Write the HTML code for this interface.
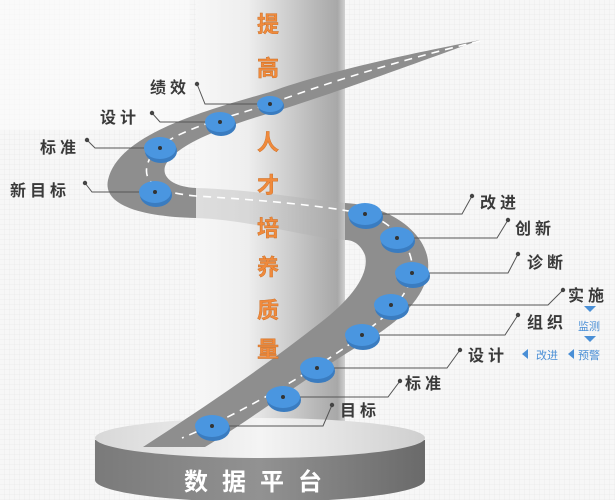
<!DOCTYPE html>
<html><head><meta charset="utf-8"><style>
html,body{margin:0;padding:0;width:615px;height:500px;overflow:hidden;background:#f6f6f6}
svg{display:block}
text{font-family:"Liberation Sans","Noto Sans CJK SC",sans-serif;font-weight:bold}
</style></head><body>
<svg width="615" height="500" viewBox="0 0 615 500" xmlns="http://www.w3.org/2000/svg">
<defs>
<pattern id="grid" width="5" height="5" patternUnits="userSpaceOnUse">
<path d="M5 0V5H0" fill="none" stroke="#e4e4e4" stroke-width="0.6"/>
</pattern>
<linearGradient id="col" x1="0" x2="1" y1="0" y2="0">
<stop offset="0" stop-color="#f7f7f7"/><stop offset="0.35" stop-color="#eeeeee"/>
<stop offset="0.8" stop-color="#b8b8b8"/><stop offset="0.95" stop-color="#a8a8a8"/><stop offset="1" stop-color="#d0d0d0"/>
</linearGradient>
<linearGradient id="side" x1="0" x2="1">
<stop offset="0" stop-color="#7a7a7a"/><stop offset="0.5" stop-color="#929292"/><stop offset="1" stop-color="#6a6a6a"/>
</linearGradient>
<linearGradient id="top" x1="0" x2="1">
<stop offset="0" stop-color="#d8d8d8"/><stop offset="0.5" stop-color="#f4f4f4"/><stop offset="1" stop-color="#cfcfcf"/>
</linearGradient>
</defs>
<rect width="615" height="500" fill="#f7f7f7"/>
<rect width="615" height="500" fill="url(#grid)"/>
<rect x="0" y="0" width="190" height="130" fill="#fbfbfb" opacity="0.6"/>
<!-- column -->
<rect x="196" y="0" width="149" height="440" fill="url(#col)"/>
<!-- platform -->
<path d="M95 440 L95 480 A165 22 0 0 0 425 480 L425 440 Z" fill="url(#side)"/>
<ellipse cx="260" cy="438" rx="165" ry="20" fill="url(#top)"/>
<text x="260" y="490" text-anchor="middle" font-size="24" fill="#fff" letter-spacing="14">数据平台</text>
<!-- road -->
<path d="M480 40 C420 52 330 70 270 92 C200 112 118 135 108 180 C102 208 150 217 196 218 L196 188 C172 187 160 176 166 164 C178 144 220 128 270 113 C330 95 430 58 480 40 Z" fill="#8e8e8e"/>
<path d="M196 188 C260 190 310 200 345 203 L345 240 C300 236 250 220 196 218 Z" fill="#b0b0b0" opacity="0.35"/>
<path d="M345 203 C390 205 432 235 428 270 C425 300 395 325 360 345 C310 375 250 420 205 447 L143 447 C200 410 260 370 320 323 C350 300 370 275 365 255 C360 243 352 240 345 240 Z" fill="#8e8e8e"/>
<path d="M480 41 C400 60 320 85 270 104 C220 120 165 132 150 158 C140 178 150 192 196 196 C260 200 320 205 365 214 C395 222 415 250 412 273 C408 300 380 320 362 335 C330 360 250 410 182 438" fill="none" stroke="#fff" stroke-width="1.6" stroke-dasharray="8 6"/>
<!-- column title -->
<g font-size="22" fill="#f08a3c" text-anchor="middle" stroke="#c86a20" stroke-width="0.4">
<text x="268" y="32">提</text><text x="268" y="76">高</text><text x="268" y="150">人</text>
<text x="268" y="193">才</text><text x="268" y="236">培</text><text x="268" y="275">养</text>
<text x="268" y="318">质</text><text x="268" y="357">量</text>
</g>
<!-- connectors -->
<g fill="none" stroke="#555" stroke-width="1">
<path d="M197 84 L205 104 L270 104"/>
<path d="M152 113 L160 122 L220 122"/>
<path d="M87 140 L95 148 L160 148"/>
<path d="M85 183 L92 192 L155 192"/>
<path d="M472 196 L462 214 L365 214"/>
<path d="M508 220 L497 238 L397 238"/>
<path d="M518 254 L508 273 L412 273"/>
<path d="M563 290 L548 305 L391 305"/>
<path d="M518 315 L505 335 L362 335"/>
<path d="M460 350 L447 368 L317 368"/>
<path d="M400 381 L388 397 L283 397"/>
<path d="M332 405 L323 426 L212 426"/>
</g>
<g fill="#444">
<circle cx="197" cy="84" r="2.2"/><circle cx="152" cy="113" r="2.2"/><circle cx="87" cy="140" r="2.2"/><circle cx="85" cy="183" r="2.2"/>
<circle cx="472" cy="196" r="2.2"/><circle cx="508" cy="220" r="2.2"/><circle cx="518" cy="254" r="2.2"/><circle cx="563" cy="290" r="2.2"/>
<circle cx="518" cy="315" r="2.2"/><circle cx="460" cy="350" r="2.2"/><circle cx="400" cy="381" r="2.2"/><circle cx="332" cy="405" r="2.2"/>
</g>
<!-- discs -->
<g>
<g fill="#3a7cc0">
<ellipse cx="271" cy="106" rx="13" ry="9"/><ellipse cx="221" cy="125" rx="15" ry="11"/><ellipse cx="161" cy="151" rx="16" ry="12"/><ellipse cx="156" cy="195" rx="16" ry="12"/>
<ellipse cx="366" cy="217" rx="17" ry="12"/><ellipse cx="398" cy="241" rx="17" ry="12"/><ellipse cx="413" cy="276" rx="17" ry="12"/><ellipse cx="392" cy="308" rx="17" ry="12"/>
<ellipse cx="363" cy="338" rx="17" ry="12"/><ellipse cx="318" cy="371" rx="17" ry="12"/><ellipse cx="284" cy="400" rx="17" ry="12"/><ellipse cx="213" cy="429" rx="17" ry="12"/>
</g>
<g fill="#4a96e0">
<ellipse cx="270" cy="104" rx="13" ry="8"/><ellipse cx="220" cy="122" rx="15" ry="10"/><ellipse cx="160" cy="148" rx="16" ry="11"/><ellipse cx="155" cy="192" rx="16" ry="11"/>
<ellipse cx="365" cy="214" rx="17" ry="11"/><ellipse cx="397" cy="238" rx="17" ry="11"/><ellipse cx="412" cy="273" rx="17" ry="11"/><ellipse cx="391" cy="305" rx="17" ry="11"/>
<ellipse cx="362" cy="335" rx="17" ry="11"/><ellipse cx="317" cy="368" rx="17" ry="11"/><ellipse cx="283" cy="397" rx="17" ry="11"/><ellipse cx="212" cy="426" rx="17" ry="11"/>
</g>
<g fill="#333">
<circle cx="270" cy="104" r="2"/><circle cx="220" cy="122" r="2"/><circle cx="160" cy="148" r="2"/><circle cx="155" cy="192" r="2"/>
<circle cx="365" cy="214" r="2"/><circle cx="397" cy="238" r="2"/><circle cx="412" cy="273" r="2"/><circle cx="391" cy="305" r="2"/>
<circle cx="362" cy="335" r="2"/><circle cx="317" cy="368" r="2"/><circle cx="283" cy="397" r="2"/><circle cx="212" cy="426" r="2"/>
</g>
</g>
<!-- labels -->
<g font-size="16" fill="#3a3a3a" letter-spacing="4">
<text x="150" y="93">绩效</text>
<text x="100" y="123">设计</text>
<text x="40" y="153">标准</text>
<text x="10" y="196">新目标</text>
<text x="480" y="208">改进</text>
<text x="515" y="234">创新</text>
<text x="527" y="268">诊断</text>
<text x="568" y="301">实施</text>
<text x="527" y="328">组织</text>
<text x="468" y="361">设计</text>
<text x="405" y="389">标准</text>
<text x="340" y="416">目标</text>
</g>
<g fill="#4a8fd6" font-size="11">
<path d="M584 306 L596 306 L590 312 Z"/>
<text x="578" y="330" style="font-weight:normal">监测</text>
<path d="M584 336 L596 336 L590 342 Z"/>
<path d="M528 349 L528 359 L522 354 Z"/>
<text x="536" y="359" style="font-weight:normal">改进</text>
<path d="M574 349 L574 359 L568 354 Z"/>
<text x="578" y="359" style="font-weight:normal">预警</text>
</g>
</svg>
</body></html>
